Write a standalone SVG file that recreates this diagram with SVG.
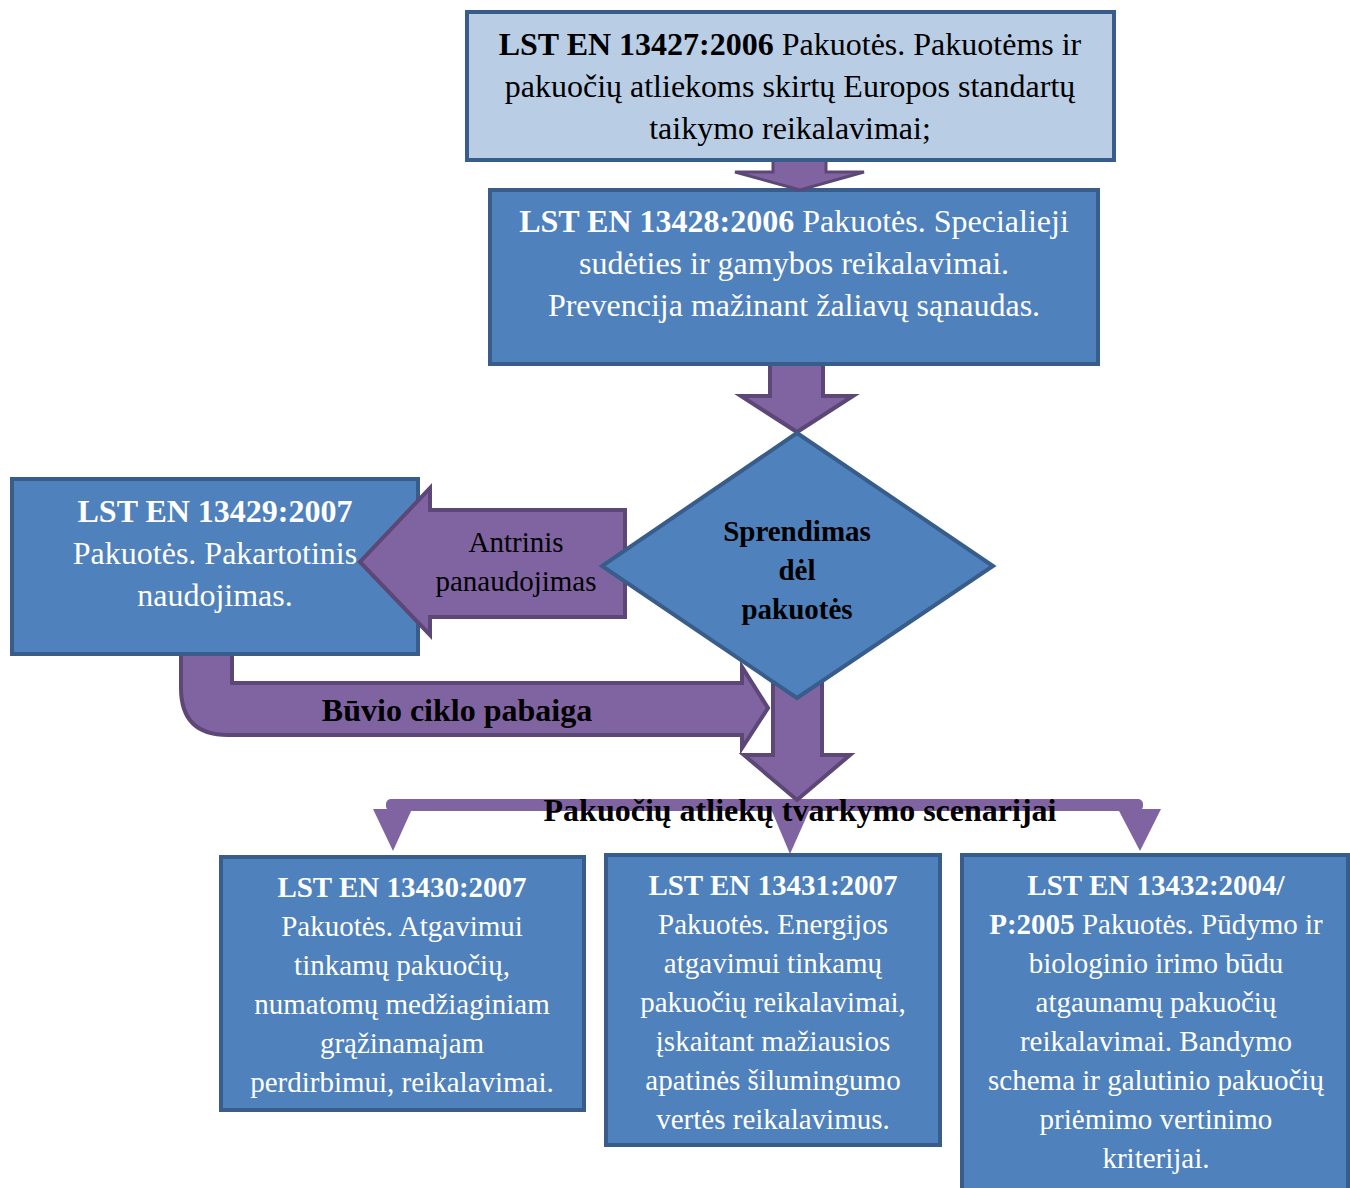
<svg xmlns="http://www.w3.org/2000/svg" width="1350" height="1188" viewBox="0 0 1350 1188">
<style>
.box{fill:#4f81bd;stroke:#385d8a;stroke-width:4}
.light{fill:#b9cde5;stroke:#385d8a;stroke-width:4}
.arr{fill:#8064a2;stroke:#5c4776;stroke-width:4;stroke-linejoin:miter}
.thin{fill:#8064a2}
text{font-family:"Liberation Serif","Times New Roman",serif;text-anchor:middle}
.w{fill:#ffffff}
.k{fill:#000000}
.b{font-weight:bold}
.f32{font-size:32px}
.f29{font-size:29px}
</style>
<rect width="1350" height="1188" fill="#ffffff"/>
<g id="n1">
  <rect class="light" x="467" y="12" width="647" height="148"/>
  <text class="k f32" x="790" y="55"><tspan class="b">LST EN 13427:2006</tspan> Pakuotės. Pakuotėms ir</text>
  <text class="k f32" x="790" y="97">pakuočių atliekoms skirtų Europos standartų</text>
  <text class="k f32" x="790" y="139">taikymo reikalavimai;</text>
</g>
<g id="n2">
  <rect class="box" x="490" y="190" width="608" height="174"/>
  <text class="w f32" x="794" y="232"><tspan class="b">LST EN 13428:2006</tspan> Pakuotės. Specialieji</text>
  <text class="w f32" x="794" y="274">sudėties ir gamybos reikalavimai.</text>
  <text class="w f32" x="794" y="316">Prevencija mažinant žaliavų sąnaudas.</text>
</g>
<g id="n3">
  <rect class="box" x="12" y="479" width="406" height="175"/>
  <text class="w f32 b" x="215" y="522">LST EN 13429:2007</text>
  <text class="w f32" x="215" y="564">Pakuotės. Pakartotinis</text>
  <text class="w f32" x="215" y="606">naudojimas.</text>
</g>
<g id="connectors">
  <path id="a1" class="arr" style="stroke-width:3" d="M773,162 L773,172 L735,172 L800,190 L864,172 L826,172 L826,162"/>
  <path id="a2" class="arr" d="M770,366 L770,396 L741,396 L797,432 L853,396 L823,396 L823,366"/>
  <polygon id="a3" class="arr" points="625,510 430,510 430,488 360,562 430,635 430,617 625,617"/>
  <path id="a4" class="arr" d="M232,656 L232,683 L742,683 L742,667 L768,708 L742,748 L742,735 L228,735 Q181,735 181,688 L181,656"/>
  <g id="bar">
    <rect class="thin" x="386" y="799" width="757" height="12" rx="5"/>
    <polygon class="thin" points="373,809 412,809 393,851"/>
    <polygon class="thin" points="771,809 810,809 790,854"/>
    <polygon class="thin" points="1118,809 1161,809 1140,851"/>
  </g>
  <polygon id="a5" class="arr" points="773,670 822,670 822,755 850,755 797,800 744,755 773,755"/>
</g>
<g id="l1">
  <text class="k f29" x="516" y="552">Antrinis</text>
  <text class="k f29" x="516" y="591">panaudojimas</text>
</g>
<g id="n4">
  <polygon class="box" points="797,433 993,566 797,698 602,566"/>
  <text class="k f29 b" x="797" y="541">Sprendimas</text>
  <text class="k f29 b" x="797" y="580">dėl</text>
  <text class="k f29 b" x="797" y="619">pakuotės</text>
</g>
<g id="l2">
  <text class="k f32 b" x="457" y="721">Būvio ciklo pabaiga</text>
  <text class="k f32 b" x="800" y="821">Pakuočių atliekų tvarkymo scenarijai</text>
</g>
<g id="n5">
  <rect class="box" x="221" y="857" width="363" height="253"/>
  <text class="w f29 b" x="402" y="897">LST EN 13430:2007</text>
  <text class="w f29" x="402" y="936">Pakuotės. Atgavimui</text>
  <text class="w f29" x="402" y="975">tinkamų pakuočių,</text>
  <text class="w f29" x="402" y="1014">numatomų medžiaginiam</text>
  <text class="w f29" x="402" y="1053">grąžinamajam</text>
  <text class="w f29" x="402" y="1092">perdirbimui, reikalavimai.</text>
</g>
<g id="n6">
  <rect class="box" x="606" y="855" width="334" height="290"/>
  <text class="w f29 b" x="773" y="895">LST EN 13431:2007</text>
  <text class="w f29" x="773" y="934">Pakuotės. Energijos</text>
  <text class="w f29" x="773" y="973">atgavimui tinkamų</text>
  <text class="w f29" x="773" y="1012">pakuočių reikalavimai,</text>
  <text class="w f29" x="773" y="1051">įskaitant mažiausios</text>
  <text class="w f29" x="773" y="1090">apatinės šilumingumo</text>
  <text class="w f29" x="773" y="1129">vertės reikalavimus.</text>
</g>
<g id="n7">
  <rect class="box" x="962" y="855" width="386" height="340"/>
  <text class="w f29 b" x="1156" y="895">LST EN 13432:2004/</text>
  <text class="w f29" x="1156" y="934"><tspan class="b">P:2005</tspan> Pakuotės. Pūdymo ir</text>
  <text class="w f29" x="1156" y="973">biologinio irimo būdu</text>
  <text class="w f29" x="1156" y="1012">atgaunamų pakuočių</text>
  <text class="w f29" x="1156" y="1051">reikalavimai. Bandymo</text>
  <text class="w f29" x="1156" y="1090">schema ir galutinio pakuočių</text>
  <text class="w f29" x="1156" y="1129">priėmimo vertinimo</text>
  <text class="w f29" x="1156" y="1168">kriterijai.</text>
</g>
</svg>
